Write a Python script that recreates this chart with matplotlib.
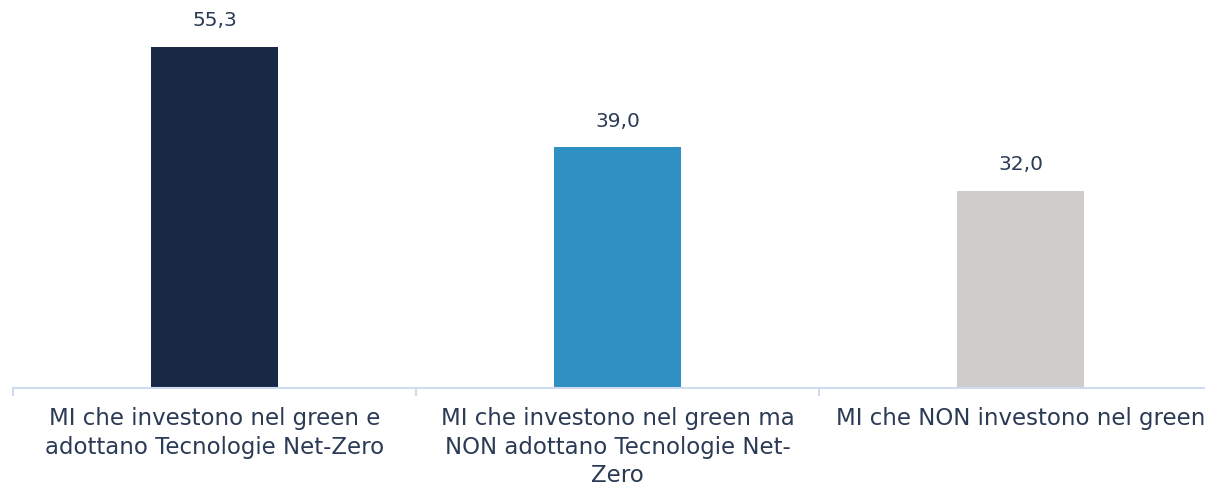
import matplotlib.pyplot as plt

# data
categories = ["MI che investono nel green e\nadottano Tecnologie Net-Zero",
              "MI che investono nel green ma\nNON adottano Tecnologie Net-\nZero",
              "MI che NON investono nel green"]
values = [55.3, 39.0, 32.0]
colors = ["#172945", "#2e90c3", "#cfcdcb"]

text_color = "#2b3a55"
axis_color = "#cfdcef"

fig = plt.figure(figsize=(12.05, 4.87), dpi=100)
# axes runs past the right edge, like the original (last label is cut)
W, H = 1205, 487
left, right = 13, 1222
bottom, top = 388, 17
ax = fig.add_axes([left / W, (H - bottom) / H, (right - left) / W, (bottom - top) / H])

x = range(len(values))
bars = ax.bar(x, values, width=0.315, color=colors)
ax.set_xlim(-0.5, 2.5)
ax.set_ylim(0, (bottom - top) / 6.17)

for b, v in zip(bars, values):
    ax.annotate(f"{v:.1f}".replace(".", ","), (b.get_x() + b.get_width() / 2, v),
                xytext=(0, 12), textcoords="offset points", ha="center", va="bottom",
                fontsize=14.5, color=text_color)

for s in ["top", "right", "left"]:
    ax.spines[s].set_visible(False)
ax.spines["bottom"].set_color(axis_color)
ax.spines["bottom"].set_linewidth(1.5)
ax.set_yticks([])

# category labels centered, boundary ticks between them
ax.set_xticks(list(x))
ax.set_xticklabels(categories, fontsize=16.5, color=text_color, linespacing=1.3)
ax.tick_params(axis="x", which="major", length=0, pad=14)
ax.set_xticks([-0.5, 0.5, 1.5, 2.5], minor=True)
ax.tick_params(axis="x", which="minor", length=6, width=1.5, color=axis_color)

fig.savefig("out.png", dpi=100)
